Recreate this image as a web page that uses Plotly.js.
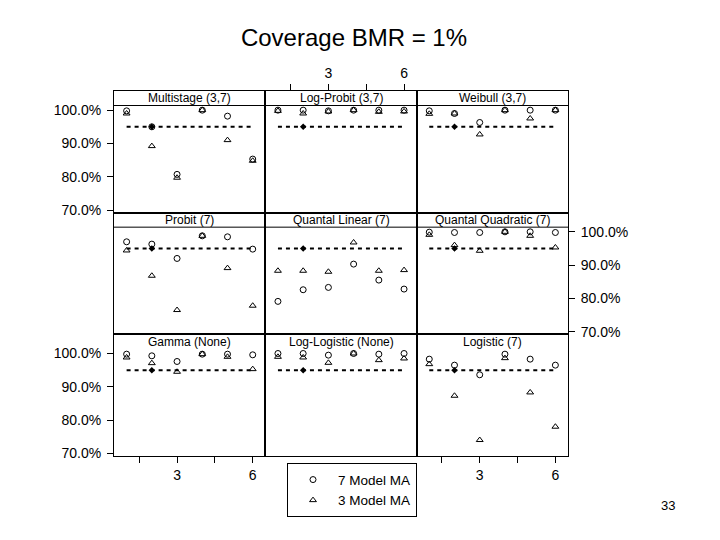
<!DOCTYPE html>
<html>
<head>
<meta charset="utf-8">
<script src="https://cdn.plot.ly/plotly-3.0.1.min.js"></script>
<style>html,body{margin:0;padding:0;background:#fff;}</style>
</head>
<body>
<div id="chart" style="width:720px;height:540px;"></div>
<script>
// ---- data (coverage, %) ----
const doseIndex = [1, 2, 3, 4, 5, 6];
const panelNames = ["Multistage (3,7)", "Log-Probit (3,7)", "Weibull (3,7)",
                    "Probit (7)", "Quantal Linear (7)", "Quantal Quadratic (7)",
                    "Gamma (None)", "Log-Logistic (None)", "Logistic (7)"];
const seriesNames = ["7 Model MA", "3 Model MA"];

const multistage7  = [99.8, 95.0, 80.7, 100.0, 98.2, 85.3];
const multistage3  = [99.0, 89.2, 79.7, 100.0, 91.0, 84.8];
const logProbit7   = [100.0, 100.0, 99.8, 100.0, 100.0, 100.0];
const logProbit3   = [99.8, 99.0, 99.6, 100.0, 99.5, 99.6];
const weibull7     = [99.8, 99.0, 96.3, 100.0, 100.0, 100.0];
const weibull3     = [98.9, 99.0, 92.7, 100.0, 97.5, 100.0];
const probit7      = [97.0, 96.3, 92.0, 98.8, 98.5, 94.8];
const probit3      = [94.4, 86.8, 76.5, 98.8, 89.1, 77.8];
const quantLin7    = [79.1, 82.6, 83.3, 90.3, 85.5, 82.8];
const quantLin3    = [88.3, 88.3, 88.0, 96.8, 88.3, 88.5];
const quantQuad7   = [99.9, 99.8, 99.8, 100.0, 100.0, 99.8];
const quantQuad3   = [99.1, 96.0, 94.3, 100.0, 98.8, 95.3];
const gamma7       = [99.8, 99.3, 97.6, 99.8, 99.8, 99.6];
const gamma3       = [98.8, 97.1, 94.5, 99.8, 99.0, 95.3];
const logLogistic7 = [100.0, 100.0, 99.5, 100.0, 99.8, 100.0];
const logLogistic3 = [99.0, 98.8, 97.2, 100.0, 98.0, 98.5];
const logistic7    = [98.3, 96.5, 93.6, 99.8, 98.3, 96.5];
const logistic3    = [96.8, 87.3, 74.0, 98.6, 88.3, 78.0];

const refLevel = 95;
const refSpan = [1, 6];
const refMarkX = [2];

const xTickVals = [1.5, 3, 4.5, 6];
const xTickText = ["", "3", "", "6"];
const yTickVals = [70, 80, 90, 100];
const yTickText = ["70.0%", "80.0%", "90.0%", "100.0%"];

const series7 = [multistage7, logProbit7, weibull7, probit7, quantLin7, quantQuad7, gamma7, logLogistic7, logistic7];
const series3 = [multistage3, logProbit3, weibull3, probit3, quantLin3, quantQuad3, gamma3, logLogistic3, logistic3];

// ---- layout geometry ----
const plotH = 365;
const stripFrac = 14.5 / plotH;
const yLo = 69.2, yHi = 101.4;
const rowH = 1 / 3;
const dataFrac = rowH - stripFrac;
const yTop = yLo + (yHi - yLo) * rowH / dataFrac; // panel range incl. strip band

const traces = [];
const layout = {
  width: 720, height: 540,
  margin: {l: 114, r: 152, t: 91, b: 84},
  paper_bgcolor: "#fff", plot_bgcolor: "#fff",
  font: {family: "Liberation Sans, Arial, sans-serif", color: "#000", size: 13},
  title: {text: "Coverage BMR = 1%", x: 354 / 720, xref: "container", xanchor: "center",
          y: 1 - 38 / 540, yref: "container", yanchor: "middle",
          font: {size: 24, family: "Liberation Sans, Arial, sans-serif", color: "#000"}},
  showlegend: true,
  legend: {x: (287 - 114) / 454, y: -0.02, xanchor: "left", yanchor: "top",
           bordercolor: "#000", borderwidth: 1, bgcolor: "#fff",
           font: {size: 13.5}, itemwidth: 40, tracegroupgap: 0},
  shapes: [], annotations: []
};

for (let i = 0; i < 9; i++) {
  const r = Math.floor(i / 3), c = i % 3;
  const s = i === 0 ? "" : String(i + 1);
  const xa = "x" + s, ya = "y" + s;
  const bottom = (2 - r) / 3;
  const top = (3 - r) / 3;

  traces.push({x: refSpan, y: [refLevel, refLevel], xaxis: xa, yaxis: ya, mode: "lines",
    line: {color: "#000", width: 2, dash: "4px,4px"}, showlegend: false, hoverinfo: "skip"});
  traces.push({x: refMarkX, y: refMarkX.map(() => refLevel), xaxis: xa, yaxis: ya, mode: "markers",
    marker: {symbol: "diamond", size: 5, color: "#000"}, showlegend: false, hoverinfo: "skip"});
  traces.push({x: doseIndex, y: series7[i], xaxis: xa, yaxis: ya, mode: "markers", name: seriesNames[0],
    showlegend: i === 0,
    marker: {symbol: "circle-open", size: 6, color: "#000", line: {width: 1, color: "#000"}}});
  traces.push({x: doseIndex, y: series3[i], xaxis: xa, yaxis: ya, mode: "markers", name: seriesNames[1],
    showlegend: i === 0,
    marker: {symbol: "triangle-up-open", size: 6, color: "#000", line: {width: 1, color: "#000"}}});

  const xBottomLabels = (r === 2 && c !== 1);
  const xTopLabels = (r === 0 && c === 1);
  layout["xaxis" + s] = {
    domain: [c / 3, (c + 1) / 3], anchor: ya, range: [0.5, 6.5],
    showline: true, mirror: true, linecolor: "#000", linewidth: 1,
    showgrid: false, zeroline: false,
    side: xTopLabels ? "top" : "bottom",
    ticks: (xBottomLabels || xTopLabels) ? "outside" : "",
    ticklen: 6, tickcolor: "#000",
    showticklabels: xBottomLabels || xTopLabels,
    tickvals: xTickVals, ticktext: xTickText, tickfont: {size: 14}
  };
  const yLeft = (c === 0 && r !== 1);
  const yRight = (c === 2 && r === 1);
  layout["yaxis" + s] = {
    domain: [bottom, top], anchor: xa, range: [yLo, yTop],
    showline: true, mirror: true, linecolor: "#000", linewidth: 1,
    showgrid: false, zeroline: false,
    side: yRight ? "right" : "left",
    ticks: (yLeft || yRight) ? "outside" : "",
    ticklen: 6, tickcolor: "#000",
    showticklabels: yLeft || yRight,
    tickvals: yTickVals, ticktext: yTickText, tickfont: {size: 14},
    ticklabelstandoff: 3
  };

  if (r !== 2) {
    layout.shapes.push({type: "line", xref: "paper", yref: "paper",
      x0: c / 3, x1: (c + 1) / 3, y0: top - stripFrac, y1: top - stripFrac,
      line: {color: "#000", width: 1}});
  }
  layout.annotations.push({xref: "paper", yref: "paper", x: (c + 0.5) / 3,
    y: top - stripFrac / 2, text: panelNames[i], showarrow: false,
    xanchor: "center", yanchor: "middle", font: {size: 12}});
}

layout.annotations.push({xref: "paper", yref: "paper", x: (668 - 114) / 454, y: (456 - 505) / 365,
  text: "33", showarrow: false, xanchor: "center", yanchor: "middle", font: {size: 13}});

Plotly.newPlot("chart", traces, layout, {displayModeBar: false, staticPlot: true});
</script>
</body>
</html>
